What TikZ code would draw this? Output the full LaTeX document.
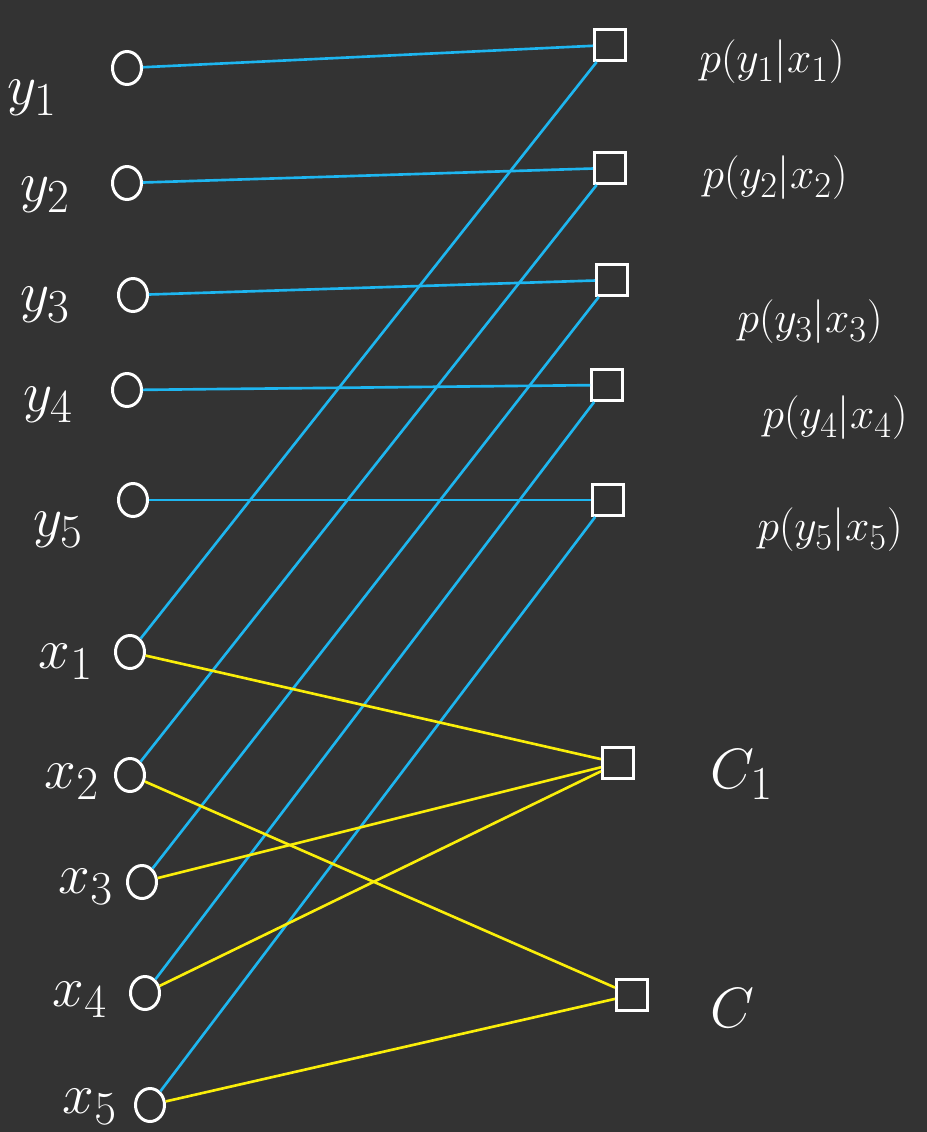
\documentclass[tikz,border=0pt]{standalone}
\usepackage{amsmath}
\usepackage{xcolor}
\usepackage{tikz}
\usetikzlibrary{shapes, positioning, calc}

\definecolor{board}{RGB}{51,51,51}
\definecolor{wireblue}{RGB}{30,182,240}
\definecolor{wireyellow}{RGB}{250,238,10}

\begin{document}
\begin{tikzpicture}[x=0.02cm, y=-0.02cm,
    var/.style={draw=white, line width=1.7pt, ellipse, minimum width=0.58cm, minimum height=0.66cm, inner sep=0pt},
    fac/.style={draw=white, line width=1.7pt, rectangle, minimum size=0.62cm, inner sep=0pt},
    lbl/.style={text=white, font=\Huge},
    biglbl/.style={lbl, scale=1.3},
    bluewire/.style={wireblue, line width=1.5pt},
    yellowwire/.style={wireyellow, line width=1.5pt}]
\useasboundingbox (0,0) rectangle (926,1132);
\fill[board] (-6,-6) rectangle (932,1138);

% Observed variables
\node[var] (y1) at (127,68) {};
\node[var] (y2) at (127,183) {};
\node[var] (y3) at (133,295) {};
\node[var] (y4) at (127,390) {};
\node[var] (y5) at (133,500) {};

\node[biglbl] (ly1) at (32,98) {$y_1$};
\node[biglbl] (ly2) at (45,195) {$y_2$};
\node[biglbl] (ly3) at (45,305) {$y_3$};
\node[biglbl] (ly4) at (48,405) {$y_4$};
\node[biglbl] (ly5) at (58,530) {$y_5$};

% Hidden variables
\node[var] (x1) at (130,652) {};
\node[var] (x2) at (130,775) {};
\node[var] (x3) at (142,882) {};
\node[var] (x4) at (145,993) {};
\node[var] (x5) at (150,1105) {};

\node[biglbl] (lx1) at (66,662) {$x_1$};
\node[biglbl] (lx2) at (72,782) {$x_2$};
\node[biglbl] (lx3) at (86,887) {$x_3$};
\node[biglbl] (lx4) at (80,1000) {$x_4$};
\node[biglbl] (lx5) at (90,1107) {$x_5$};

% Factors
\node[fac] (f1) at (610,45) {};
\node[fac] (f2) at (610,168) {};
\node[fac] (f3) at (612,280) {};
\node[fac] (f4) at (607,385) {};
\node[fac] (f5) at (608,500) {};
\node[fac] (c1) at (618,763) {};
\node[fac] (c2) at (632,995) {};

\node[lbl] (lf1) at (772,62) {$p(y_1|x_1)$};
\node[lbl] (lf2) at (775,178) {$p(y_2|x_2)$};
\node[lbl] (lf3) at (810,322) {$p(y_3|x_3)$};
\node[lbl] (lf4) at (835,418) {$p(y_4|x_4)$};
\node[lbl] (lf5) at (830,530) {$p(y_5|x_5)$};
\node[biglbl] (lc1) at (742,775) {$C_1$};
\node[biglbl] (lc2) at (732,1008) {$C$};

% Blue edges
\foreach \i in {1,...,5} {
  \draw[bluewire] (y\i) -- (f\i);
  \draw[bluewire] (x\i) -- (f\i);
}

% Yellow edges
\draw[yellowwire] (x1) -- (c1);
\draw[yellowwire] (x3) -- (c1);
\draw[yellowwire] (x4) -- (c1);
\draw[yellowwire] (x2) -- (c2);
\draw[yellowwire] (x5) -- (c2);
\end{tikzpicture}
\end{document}
